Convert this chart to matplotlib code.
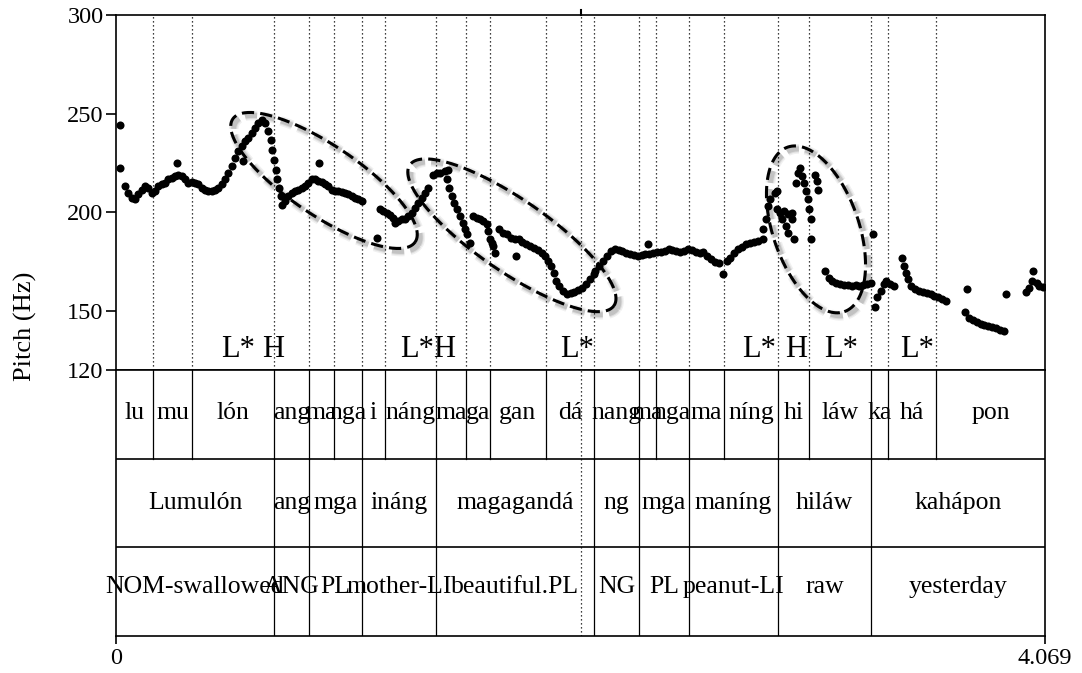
import numpy as np
import matplotlib.pyplot as plt

plt.rcParams['font.family'] = ['Liberation Serif', 'DejaVu Serif']

duration = 4.069
f_min, f_max = 120, 300

# pitch track, seconds / Hz (one row per voiced stretch)
pitch_time = [
    0.018, 0.018, 0.039, 0.054, 0.069, 0.083, 0.098, 0.112, 0.127, 0.142,
    0.156, 0.171, 0.185, 0.200, 0.215, 0.229, 0.244, 0.258, 0.266, 0.273,
    0.288, 0.302, 0.317, 0.331, 0.346, 0.361, 0.375, 0.390, 0.404, 0.419,
    0.434, 0.448, 0.463, 0.477, 0.492, 0.507, 0.521, 0.536, 0.550, 0.558,
    0.565, 0.580, 0.594, 0.609, 0.623, 0.638, 0.653, 0.667, 0.677, 0.685,
    0.692, 0.699, 0.707, 0.714, 0.721, 0.729, 0.740, 0.755, 0.769, 0.784,
    0.799, 0.813, 0.828, 0.842, 0.857, 0.872, 0.886, 0.891, 0.901, 0.915,
    0.930, 0.945, 0.959, 0.974, 0.988, 1.003, 1.018, 1.032, 1.047, 1.061,
    1.076,
    1.142, 1.156, 1.171, 1.186, 1.200, 1.215, 1.222, 1.237, 1.251, 1.266,
    1.280, 1.295, 1.310, 1.324, 1.339, 1.354, 1.368,
    1.390, 1.405, 1.419, 1.441, 1.451, 1.456, 1.460, 1.470, 1.481, 1.492,
    1.507, 1.518, 1.529, 1.536, 1.551, 1.565, 1.580, 1.594, 1.609, 1.624,
    1.631, 1.638, 1.645, 1.653, 1.662, 1.679, 1.695, 1.712, 1.729, 1.746,
    1.754, 1.763, 1.780, 1.797, 1.813, 1.830, 1.847, 1.864, 1.881, 1.894,
    1.906, 1.918, 1.928, 1.940, 1.957, 1.974, 1.991, 2.008, 2.024, 2.041,
    2.058, 2.075, 2.092, 2.100,
    2.117, 2.134, 2.151, 2.168, 2.185, 2.201, 2.218, 2.235, 2.252, 2.269,
    2.286, 2.303, 2.319, 2.328, 2.336, 2.353, 2.370, 2.387, 2.404, 2.421,
    2.437, 2.454, 2.471, 2.488, 2.505, 2.522, 2.539, 2.556, 2.573, 2.590,
    2.606, 2.623, 2.640, 2.657, 2.674, 2.691, 2.708, 2.725, 2.742, 2.759,
    2.776, 2.793, 2.810, 2.834, 2.834, 2.846, 2.856, 2.863, 2.885, 2.893,
    2.893, 2.910, 2.919, 2.927, 2.936, 2.944, 2.944, 2.961, 2.961, 2.970,
    2.978, 2.986, 2.995, 3.003, 3.012, 3.020, 3.029, 3.037, 3.042, 3.042,
    3.062, 3.071, 3.076,
    3.104, 3.121, 3.138, 3.155, 3.172, 3.188, 3.205, 3.222, 3.239, 3.256,
    3.273, 3.290, 3.307, 3.315, 3.323, 3.332, 3.349, 3.362, 3.374, 3.391,
    3.408,
    3.441, 3.450, 3.458, 3.467, 3.483, 3.500, 3.517, 3.534, 3.551, 3.568,
    3.585, 3.601, 3.618, 3.635,
    3.719, 3.728, 3.736, 3.753, 3.770, 3.787, 3.804, 3.821, 3.838, 3.854,
    3.871, 3.888, 3.897,
    3.985, 3.998, 4.010, 4.018, 4.032, 4.043, 4.060,
]
pitch_hz = [
    244.4, 222.6, 213.2, 209.8, 207.3, 206.5, 209.0, 211.5, 213.2, 212.4,
    209.8, 210.7, 213.2, 214.1, 214.9, 216.6, 217.4, 218.3, 225.0, 219.1,
    218.3, 216.6, 214.9, 215.2, 214.6, 214.1, 212.4, 211.5, 210.7, 210.7,
    211.5, 212.4, 214.1, 216.6, 220.0, 223.3, 227.5, 230.9, 233.4, 225.8,
    236.0, 237.6, 240.2, 242.7, 245.2, 246.9, 245.2, 241.0, 236.8, 231.7,
    226.7, 221.6, 216.6, 212.4, 208.2, 203.9, 205.6, 208.2, 209.8, 210.7,
    211.5, 212.4, 213.2, 214.9, 216.6, 216.6, 215.7, 225.0, 215.2, 214.1,
    213.2, 211.5, 210.7, 210.7, 210.2, 209.8, 209.3, 208.2, 207.3, 206.5,
    205.6,
    187.1, 201.4, 200.6, 199.7, 198.4, 197.2, 194.7, 195.5, 196.4, 196.4,
    198.0, 199.7, 202.3, 204.8, 207.3, 209.8, 212.4,
    219.1, 220.0, 220.0, 220.8, 216.6, 221.6, 212.4, 208.2, 204.8, 201.4,
    198.0, 194.7, 191.3, 188.8, 184.6, 198.0, 197.2, 196.4, 195.5, 193.8,
    190.5, 186.2, 184.6, 182.9, 179.5, 191.3, 189.6, 188.8, 187.1, 186.6,
    177.8, 186.2, 184.9, 183.7, 182.9, 182.0, 180.9, 179.5, 177.8, 175.3,
    172.8, 169.4, 165.2, 162.7, 160.1, 158.4, 158.9, 159.6, 160.6, 161.8,
    163.5, 166.0, 168.6, 170.2,
    172.8, 175.3, 177.8, 180.3, 181.2, 180.9, 180.3, 179.5, 178.7, 178.2,
    177.8, 178.2, 178.7, 183.7, 179.0, 179.5, 179.8, 180.0, 180.3, 181.2,
    180.9, 180.3, 179.8, 180.3, 181.2, 180.9, 179.8, 179.5, 179.8, 177.8,
    176.1, 174.8, 174.1, 168.6, 175.3, 177.0, 179.5, 181.2, 182.5, 183.7,
    184.6, 185.1, 185.6, 186.2, 191.3, 196.4, 203.1, 206.5, 209.8, 210.7,
    201.4, 199.7, 196.4, 200.6, 193.0, 198.9, 189.6, 199.7, 196.4, 186.2,
    214.9, 220.0, 222.5, 218.3, 214.9, 210.7, 206.5, 201.4, 196.4, 186.2,
    219.1, 215.7, 211.5,
    170.2, 166.9, 165.2, 164.3, 163.5, 163.2, 163.0, 162.7, 163.0, 162.7,
    163.0, 163.5, 164.0, 188.8, 151.7, 156.8, 160.1, 163.5, 165.2, 163.5,
    162.7,
    177.0, 172.8, 169.4, 166.0, 162.7, 161.3, 160.1, 159.3, 158.9, 158.4,
    157.6, 156.8, 155.9, 155.1,
    149.2, 160.9, 146.6, 145.5, 144.5, 143.3, 142.8, 142.4, 141.9, 141.1,
    140.4, 139.9, 158.4,
    159.3, 161.8, 165.2, 170.2, 164.3, 162.7, 162.3,
]

# syllable tier
syllables = ["lu", "mu", "lón", "ang", "ma", "nga", "i", "náng", "ma", "ga",
             "gan", "dá", "nang", "ma", "nga", "ma", "níng", "hi", "láw",
             "ka", "há", "pon"]
syllable_bounds = [0, 0.162, 0.333, 0.692, 0.845, 0.955, 1.077, 1.178,
                   1.402, 1.533, 1.638, 1.883, 2.094, 2.291, 2.365, 2.510,
                   2.663, 2.900, 3.035, 3.307, 3.381, 3.592, duration]

# word and gloss tiers share the same intervals
words = ["Lumulón", "ang", "mga", "ináng", "magagandá", "ng", "mga",
         "maníng", "hiláw", "kahápon"]
glosses = ["NOM-swallowed", "ANG", "PL", "mother-LI", "beautiful.PL", "NG",
           "PL", "peanut-LI", "raw", "yesterday"]
word_bounds = [0, 0.692, 0.845, 1.077, 1.402, 2.094, 2.291, 2.510, 2.900,
               3.307, duration]

# tone labels (left edge in seconds)
tones = ["L*", "H", "L*", "H", "L*", "L*", "H", "L*", "L*"]
tone_times = [0.460, 0.639, 1.244, 1.388, 1.945, 2.742, 2.930, 3.101, 3.434]

cursor_time = 2.037

W, H = 1082, 673
fig = plt.figure(figsize=(W / 100, H / 100), dpi=100)
x0, x1 = 116, 1045
ax = fig.add_axes([x0 / W, 1 - 370 / H, (x1 - x0) / W, (370 - 15) / H])
tax = fig.add_axes([x0 / W, 1 - 636 / H, (x1 - x0) / W, (636 - 370) / H])

# --- pitch panel ---
ax.set_xlim(0, duration)
ax.set_ylim(f_min, f_max)
for b in syllable_bounds[1:-1]:
    ax.axvline(b, color='k', ls=(0, (1, 2.2)), lw=0.9)
ax.axvline(cursor_time, color='k', ls=(0, (1, 2.2)), lw=0.9)

ax.plot(pitch_time, pitch_hz, 'o', color='k', ms=5.8, mec='none')

for lab, t in zip(tones, tone_times):
    ax.text(t, 126.8, lab, fontsize=22, ha='left', va='baseline')

px_x = ax.bbox.width / duration
px_y = ax.bbox.height / (f_max - f_min)


def draw_ellipse(t0, f0, a, b, angle):
    th = np.linspace(0, 2 * np.pi, 400)
    phi = np.deg2rad(angle)
    u, v = a * np.cos(th), b * np.sin(th)
    dx = u * np.cos(phi) - v * np.sin(phi)
    dy = u * np.sin(phi) + v * np.cos(phi)
    xs = t0 + dx / px_x
    ys = f0 + dy / px_y
    # soft drop shadow
    for lw, al in [(7, 0.06), (5, 0.08), (3.5, 0.12)]:
        ax.plot(xs + 3 / px_x, ys - 3 / px_y, color='k', lw=lw, alpha=al,
                dashes=(4 * 2.2 / lw, 2 * 2.2 / lw), solid_capstyle='round')
    ax.plot(xs, ys, color='k', lw=2.2, dashes=(4, 2))


draw_ellipse(0.911, 216.1, 110, 35, -34)
draw_ellipse(1.734, 188.3, 124, 36, -34.6)
draw_ellipse(3.066, 191.3, 87, 43, -71)

ax.set_yticks([120, 150, 200, 250, 300])
ax.tick_params(axis='y', direction='out', length=7, width=1.2, pad=2,
               labelsize=17.5)
ax.set_xticks([])
for s in ax.spines.values():
    s.set_linewidth(1.2)

# cursor mark above the frame
ax.plot([cursor_time, cursor_time], [f_max, f_max + 5 / px_y], color='k',
        lw=1.5, clip_on=False)

fig.text(25 / W, 1 - 326 / H, "Pitch (Hz)", rotation=90, ha='center',
         va='center', fontsize=19)

# --- text tiers ---
tax.set_xlim(0, duration)
tax.set_ylim(0, 3)
tax.axhline(1, color='k', lw=1.2)
tax.axhline(2, color='k', lw=1.2)
for b in syllable_bounds[1:-1]:
    tax.plot([b, b], [2, 3], color='k', lw=0.9)
for b in word_bounds[1:-1]:
    tax.plot([b, b], [0, 2], color='k', lw=0.9)
tax.axvline(cursor_time, color='k', ls=(0, (1, 2.2)), lw=0.9)

for i, lab in enumerate(syllables):
    mid = (syllable_bounds[i] + syllable_bounds[i + 1]) / 2
    tax.text(mid, 2.52, lab, fontsize=18.5, ha='center', va='center')
for i, (w, g) in enumerate(zip(words, glosses)):
    mid = (word_bounds[i] + word_bounds[i + 1]) / 2
    tax.text(mid, 1.5, w, fontsize=18.5, ha='center', va='center')
    tax.text(mid, 0.55, g, fontsize=18.5, ha='center', va='center')

tax.set_yticks([])
tax.set_xticks([0, duration])
tax.set_xticklabels(["0", "4.069"])
tax.tick_params(axis='x', direction='out', length=6, width=1.2, pad=3,
                labelsize=17.5)
for s in tax.spines.values():
    s.set_linewidth(1.2)

fig.savefig("out.png", dpi=100)
